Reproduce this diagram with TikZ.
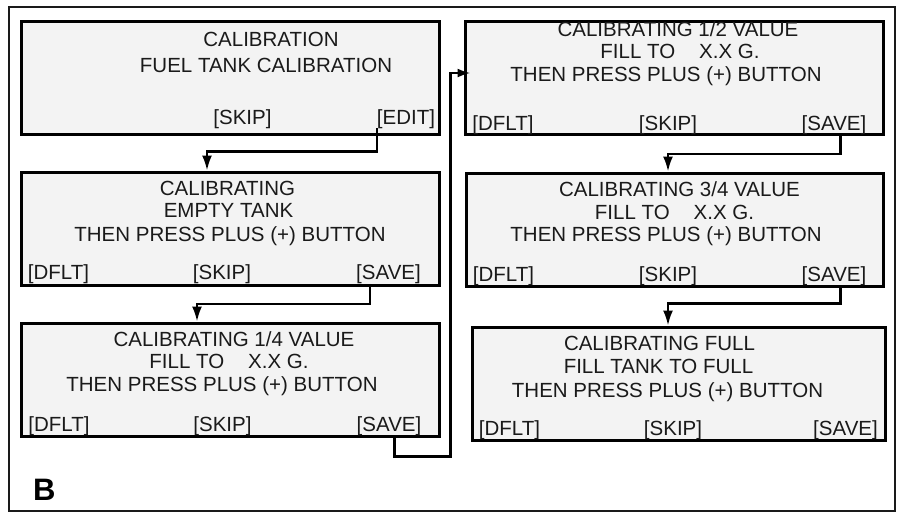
\documentclass[tikz,border=0pt]{standalone}
\usepackage{fontspec}
\setmainfont{Liberation Sans}
\usetikzlibrary{positioning,arrows.meta,calc}
\definecolor{lcdgray}{HTML}{F3F3F3}
\definecolor{ink}{HTML}{1A1A1A}

\begin{document}
\begin{tikzpicture}[x=1pt,y=-1pt,>=Latex,
  screen/.style={draw=black,line width=3pt,fill=lcdgray,inner sep=0pt,minimum height=113pt},
  txt/.style={anchor=base,inner sep=0pt,text=ink,font=\fontsize{20.5}{24}\selectfont},
  link/.style={line width=2.3pt,-{Latex[length=15pt,width=10pt]}}]
  \useasboundingbox (0,0) rectangle (901,515);
  \draw[line width=2pt,draw=ink] (9,7) rectangle (895,511);

  % left column
  \node[screen,minimum width=418pt] (cal) at (230,77.5) {};
  \node[txt] (calA) at (271,46.7) {CALIBRATION};
  \node[txt] (calB) at (266,72) {FUEL TANK CALIBRATION};
  \node[txt] (skip1) at (242.5,124) {[SKIP]};
  \node[txt] (edit) at (406,124) {[EDIT]};

  \node[screen,minimum width=418pt] (empty) at (230,228.5) {};
  \node[txt] (emptyA) at (227.5,195) {CALIBRATING};
  \node[txt] (emptyB) at (228.5,217.3) {EMPTY TANK};
  \node[txt] (emptyC) at (230,241) {THEN PRESS PLUS (+) BUTTON};
  \node[txt] (dflt2) at (58.5,279.5) {[DFLT]};
  \node[txt] (skip2) at (222,279.5) {[SKIP]};
  \node[txt] (save2) at (388.5,279.5) {[SAVE]};

  \node[screen,minimum width=418pt] (quarter) at (230,379.5) {};
  \node[txt] (quarterA) at (234,346.7) {CALIBRATING 1/4 VALUE};
  \node[txt] (quarterB) at (229,368.3) {FILL TO\hspace{24pt}X.X G.};
  \node[txt] (quarterC) at (222,391) {THEN PRESS PLUS (+) BUTTON};
  \node[txt] (dflt3) at (59,431) {[DFLT]};
  \node[txt] (skip3) at (222.5,431) {[SKIP]};
  \node[txt] (save3) at (389,431) {[SAVE]};

  % right column
  \node[screen,minimum width=418pt] (half) at (674,77.5) {};
  \node[txt] (halfA) at (678,36) {CALIBRATING 1/2 VALUE};
  \node[txt] (halfB) at (680,58.3) {FILL TO\hspace{24pt}X.X G.};
  \node[txt] (halfC) at (666,81) {THEN PRESS PLUS (+) BUTTON};
  \node[txt] (dflt4) at (503,130.5) {[DFLT]};
  \node[txt] (skip4) at (668,130.5) {[SKIP]};
  \node[txt] (save4) at (834,130.5) {[SAVE]};

  \node[screen,minimum width=417pt] (threeq) at (674.5,229.5) {};
  \node[txt] (threeqA) at (679.5,196) {CALIBRATING 3/4 VALUE};
  \node[txt] (threeqB) at (674.5,219.3) {FILL TO\hspace{24pt}X.X G.};
  \node[txt] (threeqC) at (666,241.7) {THEN PRESS PLUS (+) BUTTON};
  \node[txt] (dflt5) at (503.5,281) {[DFLT]};
  \node[txt] (skip5) at (668,281) {[SKIP]};
  \node[txt] (save5) at (834,281) {[SAVE]};

  \node[screen,minimum width=413pt] (full) at (678.5,383.5) {};
  \node[txt] (fullA) at (659.5,350) {CALIBRATING FULL};
  \node[txt] (fullB) at (658.5,373.3) {FILL TANK TO FULL};
  \node[txt] (fullC) at (667.5,397.7) {THEN PRESS PLUS (+) BUTTON};
  \node[txt] (dflt6) at (509.5,435) {[DFLT]};
  \node[txt] (skip6) at (673,435) {[SKIP]};
  \node[txt] (save6) at (845.5,435) {[SAVE]};

  % connectors
  \draw[link] (edit.south west) -- ++(0,23) -| ($(empty.north)+(-23,0)$);
  \draw[link] ($(save2.south west)+(14,0)$) -- ++(0,20) -| ($(quarter.north)+(-33,0)$);
  \draw[line width=2.3pt,-{Latex[length=13pt,width=9pt]}] ($(save3.south west)+(38,0)$) -- ++(0,21)
    -| ($(half.west)+(-13,-4.5)$) -- ($(half.west)+(7,-4.5)$);
  \draw[link] ($(save4.south west)+(39,0)$) -- ++(0,19) -| ($(threeq.north)+(-6.5,0)$);
  \draw[link] ($(save5.south west)+(39,0)$) -- ++(0,18) -| ($(full.north)+(-10.5,0)$);

  \node[anchor=base west,inner sep=0pt,font=\bfseries\fontsize{31}{31}\selectfont] (tag) at (33,500) {B};
\end{tikzpicture}
\end{document}
